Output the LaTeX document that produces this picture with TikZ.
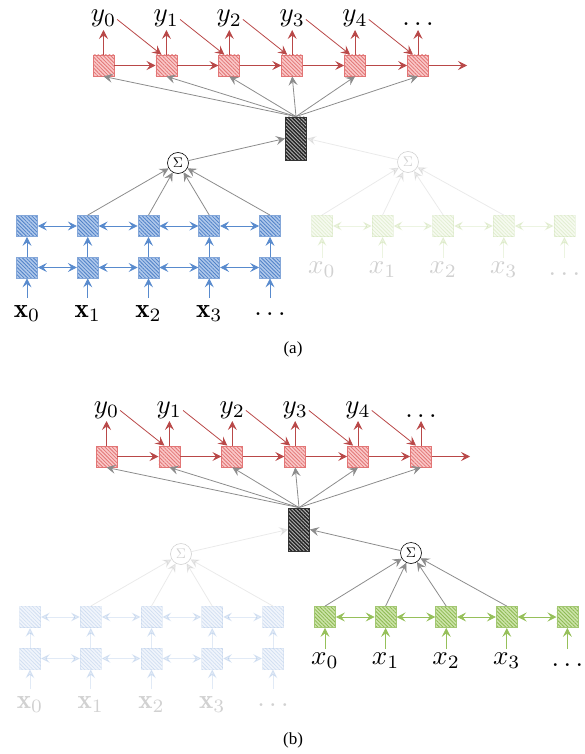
\documentclass[tikz,border=0pt]{standalone}
\usepackage{fontspec}
\newfontfamily\capfont{Liberation Serif}
\usetikzlibrary{arrows.meta,patterns.meta,calc}
\definecolor{redline}{RGB}{185,72,72}
\definecolor{redbox}{RGB}{226,118,118}
\definecolor{redfill}{RGB}{250,200,200}
\definecolor{blueline}{RGB}{88,138,205}
\definecolor{bluebox}{RGB}{80,130,200}
\definecolor{bluefill}{RGB}{175,200,235}
\definecolor{greenline}{RGB}{150,192,90}
\definecolor{greenbox}{RGB}{140,185,80}
\definecolor{greenfill}{RGB}{205,228,170}
\definecolor{grayline}{RGB}{140,140,140}
\newcommand\biglab[1]{\scalebox{2.7}{$#1$}}
\tikzset{
  >={Stealth[length=9pt,width=9pt,inset=3.5pt]},
  arr/.style={->, line width=0.8pt},
  darr/.style={<->, line width=0.8pt},
  cell/.style={minimum size=21pt, inner sep=0pt, line width=0.8pt},
  redcell/.style={cell, draw=redbox, preaction={fill=redfill},
     pattern={Lines[angle=-45,distance=2.6pt,line width=0.8pt]}, pattern color=redbox},
  bluecell/.style={cell, draw=bluebox!70, preaction={fill=bluefill},
     pattern={Lines[angle=-45,distance=2.6pt,line width=0.8pt]}, pattern color=bluebox},
  greencell/.style={cell, draw=greenbox!80, preaction={fill=greenfill},
     pattern={Lines[angle=-45,distance=2.6pt,line width=0.8pt]}, pattern color=greenbox},
  ctxcell/.style={minimum width=21pt, minimum height=43pt, inner sep=0pt, line width=0.8pt,
     draw=black!80, preaction={fill=black!85},
     pattern={Lines[angle=-45,distance=2.6pt,line width=0.9pt]}, pattern color=white!70!black},
  sumnode/.style={circle, draw=black, line width=0.6pt, minimum size=21pt, inner sep=0pt,
     fill=white},
  lab/.style={inner sep=0pt},
  caption/.style={inner sep=0pt, font=\capfont\fontsize{17}{20}\selectfont},
}
\newcommand\drawpanel[4]{%
\begin{scope}[shift={#2}]
  % decoder
  \foreach \i in {0,...,5}{
    \node[redcell] (#1d\i) at ({103.5+62.9*\i},65.5) {};
    \coordinate (#1t\i) at ({103.5+62.9*\i},30);
  }
  \foreach \i in {0,...,4}{
    \node[lab, anchor=base] (#1y\i) at ({103.5+62.9*\i},22) {\biglab{y_{\i}}};
  }
  \node[lab, anchor=base] (#1y5) at ({103.5+62.9*5},26) {\biglab{\dots}};
  \foreach \i in {0,...,5}{
    \draw[arr, redline] (#1d\i.north) -- (#1t\i);
  }
  \foreach \i [evaluate=\i as \j using int(\i+1)] in {0,...,4}{
    \draw[arr, redline, shorten <=1pt] (#1y\i.east) -- ([xshift=-5pt]#1d\j.north);
    \draw[arr, redline] (#1d\i.east) -- (#1d\j.west);
  }
  \coordinate (#1dend) at (467,65.5);
  \draw[arr, redline] (#1d5.east) -- (#1dend);
  % context
  \node[ctxcell] (#1c) at (296,138.5) {};
  \foreach \i in {0,...,5}{
    \draw[arr, grayline] (#1c.north) -- (#1d\i.south);
  }
  % left (blue) encoder
  \begin{scope}[opacity=#3]
    \node[sumnode] (#1sl) at (178,163) {\scalebox{1.4}{$\Sigma$}};
    \draw[arr, grayline] (#1sl) -- (#1c.west);
    \foreach \i in {0,...,4}{
      \node[bluecell] (#1a\i) at ({27+60.75*\i},226) {};
      \node[bluecell] (#1b\i) at ({27+60.75*\i},267.5) {};
      \coordinate (#1i\i) at ({27+60.75*\i},298);
      \draw[arr, blueline] (#1i\i) -- (#1b\i.south);
      \draw[arr, blueline] (#1b\i.north) -- (#1a\i.south);
    }
    \foreach \i [evaluate=\i as \j using int(\i+1)] in {0,...,3}{
      \draw[darr, blueline] (#1a\i.east) -- (#1a\j.west);
      \draw[darr, blueline] (#1b\i.east) -- (#1b\j.west);
    }
    \foreach \i in {1,...,4}{
      \draw[arr, grayline] (#1a\i.north) -- (#1sl);
    }
    \foreach \i in {0,...,3}{
      \node[lab, anchor=base] (#1xl\i) at ({27+60.75*\i},317) {\biglab{\mathbf{x}_{\i}}};
    }
    \node[lab, anchor=base] (#1xl4) at ({27+60.75*4},315) {\biglab{\dots}};
  \end{scope}
  % right (green) encoder
  \begin{scope}[opacity=#4]
    \node[sumnode] (#1sr) at (408,162) {\scalebox{1.4}{$\Sigma$}};
    \draw[arr, grayline] (#1sr) -- (#1c.east);
    \foreach \i in {0,...,4}{
      \node[greencell] (#1g\i) at ({322+60.6*\i},226) {};
      \coordinate (#1j\i) at ({322+60.6*\i},258);
      \draw[arr, greenline] (#1j\i) -- (#1g\i.south);
    }
    \foreach \i [evaluate=\i as \j using int(\i+1)] in {0,...,3}{
      \draw[darr, greenline] (#1g\i.east) -- (#1g\j.west);
      \draw[arr, grayline] (#1g\i.north) -- (#1sr);
    }
    \foreach \i in {0,...,3}{
      \node[lab, anchor=base] (#1xr\i) at ({322+60.6*\i},273) {\biglab{x_{\i}}};
    }
    \node[lab, anchor=base] (#1xr4) at ({322+60.6*4},275) {\biglab{\dots}};
  \end{scope}
\end{scope}}
\begin{document}
\begin{tikzpicture}[x=1pt, y=-1pt]
  \useasboundingbox (0,0) rectangle (584,754);
  \drawpanel{A}{(0,0)}{1}{0.18}
  \drawpanel{B}{(3,391)}{0.18}{1}
  \node[caption] (capA) at (293,349) {(a)};
  \node[caption] (capB) at (293,740) {(b)};
\end{tikzpicture}
\end{document}
